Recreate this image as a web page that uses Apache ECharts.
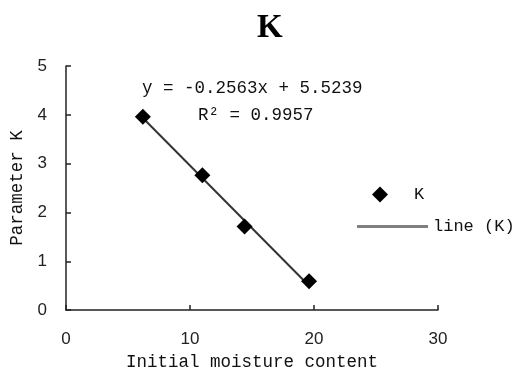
<!DOCTYPE html>
<html><head><meta charset="utf-8">
<script src="https://cdn.jsdelivr.net/npm/echarts@6/dist/echarts.min.js"></script>
<style>html,body{margin:0;padding:0;background:#fff}#c{width:512px;height:376px}</style>
</head><body><div id="c"></div>
<script>
const moisture = [6.2, 11.0, 14.4, 19.6];
const paramK = [3.96, 2.76, 1.71, 0.59];
const trendX = [6.2, 19.6];
const trendY = [3.935, 0.50];
const xTicks = [0, 10, 20, 30];
const yTicks = [0, 1, 2, 3, 4, 5];
const equationText = 'y = -0.2563x + 5.5239';
const r2Text = 'R² = 0.9957';

const font = '"Liberation Mono", "DejaVu Sans Mono", monospace';
const numFont = '"Liberation Sans", Arial, sans-serif';
const chart = echarts.init(document.getElementById('c'));
chart.setOption({
  animation: false,
  title: { text: 'K', left: 252, top: 7, textStyle: { fontFamily: '"Liberation Serif", serif', fontWeight: 'bold', fontSize: 33, color: '#000' } },
  grid: { left: 66, right: 74, top: 66, bottom: 64 },
  xAxis: {
    type: 'value', min: xTicks[0], max: xTicks[xTicks.length - 1], interval: 10,
    name: 'Initial moisture content', nameLocation: 'middle', nameGap: 42,
    nameTextStyle: { fontFamily: font, fontSize: 17.5, color: '#111' },
    axisLine: { lineStyle: { color: '#222', width: 1.5 } },
    axisTick: { inside: true, length: 5, lineStyle: { color: '#222', width: 1.5 } },
    axisLabel: { fontFamily: numFont, fontSize: 17, color: '#222', margin: 21 },
    splitLine: { show: false }
  },
  yAxis: {
    type: 'value', min: yTicks[0], max: yTicks[yTicks.length - 1], interval: 1,
    name: 'Parameter K', nameLocation: 'middle', nameGap: 39,
    nameTextStyle: { fontFamily: font, fontSize: 17.5, color: '#111' },
    axisLine: { show: true, lineStyle: { color: '#222', width: 1.5 } },
    axisTick: { show: true, inside: true, length: 5, lineStyle: { color: '#222', width: 1.5 } },
    axisLabel: { fontFamily: numFont, fontSize: 17, color: '#222', margin: 19 },
    splitLine: { show: false }
  },
  legend: [
    { data: [{ name: 'K', icon: 'diamond' }], left: 367, top: 181, itemWidth: 16, itemHeight: 16,
      textStyle: { fontFamily: font, fontSize: 17, color: '#111', padding: [0, 0, 0, 21] } },
    { data: [{ name: 'line (K)', icon: 'rect' }], left: 352, top: 213, itemWidth: 71, itemHeight: 3,
      textStyle: { fontFamily: font, fontSize: 17, color: '#111', padding: [0, 0, 0, 0] } }
  ],
  series: [
    { name: 'line (K)', type: 'line', symbol: 'none', data: trendX.map((x, i) => [x, trendY[i]]),
      lineStyle: { color: '#333', width: 2 }, itemStyle: { color: '#808080' }, z: 1 },
    { name: 'K', type: 'scatter', symbol: 'diamond', symbolSize: 16, data: moisture.map((x, i) => [x, paramK[i]]),
      itemStyle: { color: '#000', opacity: 1 }, z: 3 }
  ],
  graphic: [
    { type: 'text', left: 142, top: 79, style: { text: equationText, fontFamily: font, fontSize: 17.5, fill: '#111' } },
    { type: 'text', left: 198, top: 106, style: { text: r2Text, fontFamily: font, fontSize: 17.5, fill: '#111' } }
  ]
});
</script></body></html>
